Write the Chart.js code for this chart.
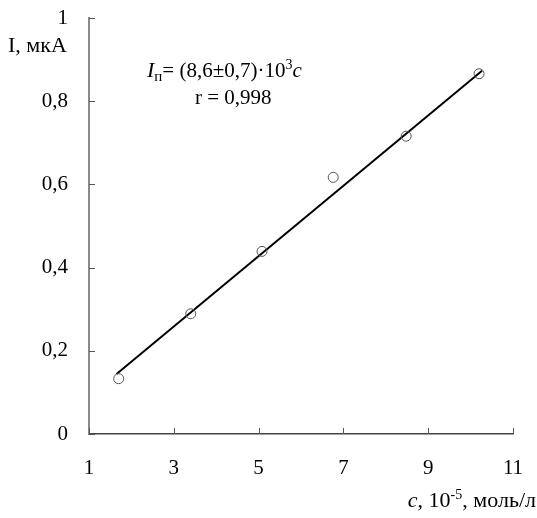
<!DOCTYPE html>
<html><head><meta charset="utf-8">
<script src="https://cdn.jsdelivr.net/npm/chart.js@4.4.1/dist/chart.umd.min.js"></script>
<style>html,body{margin:0;padding:0;background:#fff}#wrap{width:537px;height:518px;position:relative}</style>
</head><body><div id="wrap"><canvas id="c" width="537" height="518"></canvas></div>
<script>
// Data
const concentration = [1.70, 3.40, 5.08, 6.76, 8.48, 10.20];   // c, 10^-5 mol/L
const current = [0.133, 0.289, 0.439, 0.617, 0.716, 0.866];     // I, µA
const fitX = [1.65, 10.27];
const fitY = [0.144, 0.873];
const xTicks = [1, 3, 5, 7, 9, 11];
const yTicks = [0, 0.2, 0.4, 0.6, 0.8, 1];

const FONT = '"Liberation Serif", "Times New Roman", serif';
const FS = 21;

const innerTicks = {
  id: 'innerTicks',
  afterDatasetsDraw(chart) {
    const {ctx, scales: {x, y}} = chart;
    ctx.save();
    ctx.strokeStyle = '#555';
    ctx.lineWidth = 1;
    yTicks.forEach(v => {
      const py = Math.round(y.getPixelForValue(v)) + 0.5;
      ctx.beginPath(); ctx.moveTo(x.left, py); ctx.lineTo(x.left + 6, py); ctx.stroke();
    });
    xTicks.forEach(v => {
      const px = Math.round(x.getPixelForValue(v)) + 0.5;
      ctx.beginPath(); ctx.moveTo(px, y.bottom); ctx.lineTo(px, y.bottom - 6); ctx.stroke();
    });
    ctx.restore();
  }
};

function runs(ctx, parts, x, base) {
  parts.forEach(p => {
    ctx.font = p.f;
    ctx.fillText(p.t, x, base + (p.dy || 0));
    x += ctx.measureText(p.t).width;
  });
}
function runsWidth(ctx, parts) {
  let w = 0;
  parts.forEach(p => { ctx.font = p.f; w += ctx.measureText(p.t).width; });
  return w;
}

const texts = {
  id: 'texts',
  afterDraw(chart) {
    const ctx = chart.ctx;
    ctx.save();
    ctx.fillStyle = '#000';
    ctx.textBaseline = 'alphabetic';
    ctx.textAlign = 'left';
    const R = FS + 'px ' + FONT, I = 'italic ' + FS + 'px ' + FONT, S = '14px ' + FONT;
    // y axis title
    ctx.font = '22px ' + FONT;
    ctx.fillText('I, мкА', 8, 52);
    // equation
    runs(ctx, [
      {t: 'I', f: 'italic 22px ' + FONT},
      {t: 'п', f: '15px ' + FONT, dy: 4},
      {t: '= (8,6±0,7)·10', f: R},
      {t: '3', f: S, dy: -8},
      {t: 'c', f: I}
    ], 147, 77);
    ctx.font = R;
    ctx.fillText('r = 0,998', 195, 104);
    // x axis title, right aligned to the canvas edge
    const xt = [
      {t: 'c', f: 'italic 22px ' + FONT},
      {t: ', 10', f: '22px ' + FONT},
      {t: '-5', f: S, dy: -8},
      {t: ', моль/л', f: '22px ' + FONT}
    ];
    runs(ctx, xt, 536 - runsWidth(ctx, xt), 507);
    ctx.restore();
  }
};

new Chart(document.getElementById('c'), {
  data: {
    datasets: [
      {
        type: 'scatter',
        data: concentration.map((c, i) => ({x: c, y: current[i]})),
        pointStyle: 'circle',
        pointRadius: 5,
        pointBorderWidth: 1,
        pointBorderColor: '#555',
        pointBackgroundColor: 'rgba(255,255,255,0)',
        order: 0
      },
      {
        type: 'line',
        data: fitX.map((c, i) => ({x: c, y: fitY[i]})),
        borderColor: '#000',
        borderWidth: 2,
        pointRadius: 0,
        fill: false,
        order: 1
      }
    ]
  },
  options: {
    responsive: false,
    animation: false,
    events: [],
    layout: {padding: {top: 18, right: 24, left: 0, bottom: 0}},
    plugins: {legend: {display: false}, tooltip: {enabled: false}},
    scales: {
      x: {
        type: 'linear', position: 'bottom', min: 1, max: 11,
        afterBuildTicks: s => { s.ticks = xTicks.map(v => ({value: v})); },
        afterFit: s => { s.height = 84; s.paddingLeft = 0; s.paddingRight = 0; },
        grid: {display: true, drawOnChartArea: false, drawTicks: false},
        border: {display: true, color: '#444', width: 1.5},
        ticks: {padding: 22, color: '#000', font: {family: FONT, size: FS}, maxRotation: 0}
      },
      y: {
        type: 'linear', position: 'left', min: 0, max: 1,
        afterBuildTicks: s => { s.ticks = yTicks.map(v => ({value: v})); },
        afterFit: s => { s.width = 89; s.paddingTop = 0; s.paddingBottom = 0; },
        grid: {display: true, drawOnChartArea: false, drawTicks: false},
        border: {display: true, color: '#8a8a8a', width: 2},
        ticks: {padding: 21, color: '#000', font: {family: FONT, size: FS},
          callback: v => String(Math.round(v * 10) / 10).replace('.', ',')}
      }
    }
  },
  plugins: [innerTicks, texts]
});
</script></body></html>
